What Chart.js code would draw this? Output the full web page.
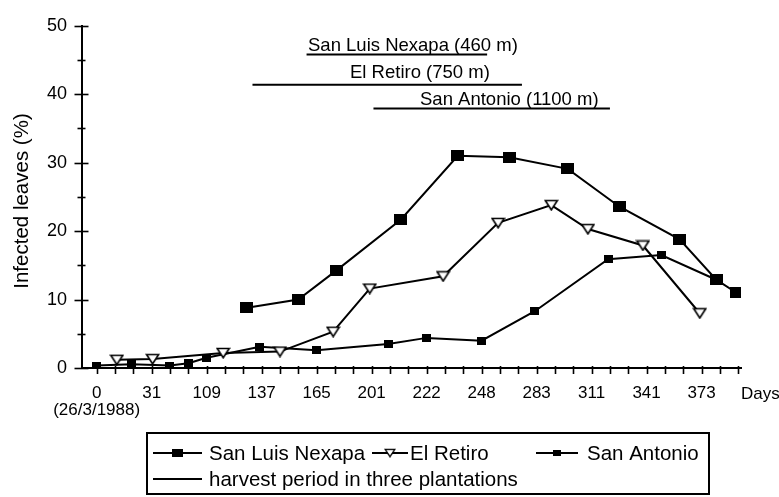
<!DOCTYPE html>
<html>
<head>
<meta charset="utf-8">
<script src="https://cdn.jsdelivr.net/npm/chart.js@4.4.1/dist/chart.umd.min.js"></script>
<style>
html,body{margin:0;padding:0;background:#fff;}
#wrap{width:779px;height:497px;position:relative;}
</style>
</head>
<body>
<div id="wrap"><canvas id="c" width="779" height="497"></canvas></div>
<script>
// ---- data (x = position in sampling-date ticks; one tick per sampling date) ----
const dayLabels = ['0','31','109','137','165','201','222','248','283','311','341','373'];
const firstDateLabel = '(26/3/1988)';
const axisEndLabel = 'Days';
const yTitle = 'Infected leaves (%)';
const seriesNames = ['San Luis Nexapa', 'El Retiro', 'San Antonio'];

const sanLuisX = [8.2, 11.0, 13.1, 16.6, 19.7, 22.5, 25.7, 28.5, 31.8, 33.8, 34.9];
const sanLuisY = [8.8, 10.0, 14.3, 21.7, 31.0, 30.8, 29.1, 23.6, 18.8, 12.9, 11.0];

const elRetiroX = [1.1, 3.05, 6.9, 10.0, 12.9, 14.9, 18.9, 21.9, 24.8, 26.8, 29.8, 32.9];
const elRetiroY = [1.2, 1.3, 2.2, 2.4, 5.3, 11.6, 13.4, 21.2, 23.8, 20.3, 17.9, 8.0];

const sanAntonioX = [0, 1.9, 4.0, 5.0, 6.0, 8.9, 12.0, 15.9, 18.0, 21.0, 23.9, 27.9, 30.8, 33.8];
const sanAntonioY = [0.35, 0.55, 0.35, 0.7, 1.5, 3.1, 2.6, 3.5, 4.4, 4.0, 8.3, 15.9, 16.5, 12.9];

const harvestLegend = 'harvest period in three plantations';
const harvestNames = ['San Luis Nexapa (460 m)', 'El Retiro (750 m)', 'San Antonio (1100 m)'];
const harvestStart = [11.45, 8.5, 15.1];
const harvestEnd = [21.3, 23.2, 28.0];
const harvestLevel = [45.8, 41.4, 37.9];

// ---- styling ----
const FONT = '"Liberation Sans", Arial, Helvetica, sans-serif';
function mk(w, h, draw) { const c = document.createElement('canvas'); c.width = w; c.height = h; draw(c.getContext('2d')); return c; }
const bigSquare = mk(13, 11, g => { g.fillStyle = '#000'; g.fillRect(0, 0, 13, 11); });
const smallSquare = mk(9, 8, g => { g.fillStyle = '#000'; g.fillRect(0, 0, 9, 8); });
const triDown = mk(15, 12, g => {
  g.fillStyle = '#fff'; g.strokeStyle = '#000'; g.lineWidth = 1.6;
  g.beginPath(); g.moveTo(1.5, 1.5); g.lineTo(13.5, 1.5); g.lineTo(7.5, 10.8); g.closePath(); g.fill(); g.stroke();
});

const pts = (xs, ys) => xs.map((x, i) => ({ x, y: ys[i] }));

const datasets = [
  { label: seriesNames[0], data: pts(sanLuisX, sanLuisY), pointStyle: bigSquare },
  { label: seriesNames[1], data: pts(elRetiroX, elRetiroY), pointStyle: triDown },
  { label: seriesNames[2], data: pts(sanAntonioX, sanAntonioY), pointStyle: smallSquare }
].map(d => Object.assign(d, { borderColor: '#000', backgroundColor: '#000', borderWidth: 2, pointRadius: 6, tension: 0 }));

harvestNames.forEach((n, i) => datasets.push({
  label: n,
  data: [{ x: harvestStart[i], y: harvestLevel[i] }, { x: harvestEnd[i], y: harvestLevel[i] }],
  borderColor: '#000', borderWidth: 2, pointRadius: 0
}));

const harvestLabelLayout = [ { x: 11.53, dy: 3.5 }, { x: 13.82, dy: 7 }, { x: 17.64, dy: 4 } ];

const decor = {
  id: 'decor',
  afterDraw(chart) {
    const { ctx, scales: { x, y } } = chart;
    const y0 = y.getPixelForValue(0);
    const ax = chart.chartArea.left;
    ctx.save();
    ctx.strokeStyle = '#000';
    ctx.lineWidth = 1.6;
    // x tick marks
    x.ticks.forEach(t => {
      const px = Math.round(x.getPixelForValue(t.value)) + 0.5;
      ctx.beginPath(); ctx.moveTo(px, y0 - 2); ctx.lineTo(px, y0 + 6); ctx.stroke();
    });
    // y tick marks (crossing)
    y.ticks.forEach(t => {
      const py = Math.round(y.getPixelForValue(t.value)) + 0.5;
      const h = t.value % 10 === 0 ? 7.5 : 4.5;
      ctx.beginPath(); ctx.moveTo(ax - h, py); ctx.lineTo(ax + h - 1, py); ctx.stroke();
    });
    ctx.fillStyle = '#000';
    // harvest labels
    ctx.font = '18.5px ' + FONT;
    ctx.textAlign = 'left'; ctx.textBaseline = 'alphabetic';
    harvestNames.forEach((n, i) => {
      const L = harvestLabelLayout[i];
      ctx.fillText(n, x.getPixelForValue(L.x), y.getPixelForValue(harvestLevel[i]) - L.dy);
    });
    // axis end label
    ctx.font = '17px ' + FONT;
    ctx.textBaseline = 'middle';
    ctx.fillText(axisEndLabel, 741, 394);
    // y title
    ctx.save();
    ctx.translate(22, 201); ctx.rotate(-Math.PI / 2);
    ctx.font = '20.5px ' + FONT; ctx.textAlign = 'center'; ctx.textBaseline = 'middle';
    ctx.fillText(yTitle, 0, 0);
    ctx.restore();
    // legend
    const box = { l: 147, t: 433, r: 709, b: 494 };
    ctx.lineWidth = 2;
    ctx.strokeRect(box.l, box.t, box.r - box.l, box.b - box.t);
    const r1 = 453, r2 = 479;
    const items = [
      { x0: 153, x1: 202, tx: 209, y: r1, img: bigSquare, text: seriesNames[0] },
      { x0: 372, x1: 408, tx: 410, y: r1, img: triDown, text: seriesNames[1] },
      { x0: 536, x1: 578, tx: 587, y: r1, img: smallSquare, text: seriesNames[2] },
      { x0: 153, x1: 202, tx: 209, y: r2, img: null, text: harvestLegend }
    ];
    ctx.font = '20.5px ' + FONT; ctx.textAlign = 'left'; ctx.textBaseline = 'middle';
    items.forEach(it => {
      ctx.beginPath(); ctx.moveTo(it.x0, it.y); ctx.lineTo(it.x1, it.y); ctx.stroke();
      if (it.img) {
        const s = it.img === smallSquare ? 0.85 : 0.8;
        const w = it.img.width * s, h = it.img.height * s;
        ctx.drawImage(it.img, (it.x0 + it.x1) / 2 - w / 2, it.y - h / 2, w, h);
      }
      ctx.fillText(it.text, it.tx, it.y + 1);
    });
    ctx.restore();
  }
};

new Chart(document.getElementById('c'), {
  type: 'line',
  data: { datasets },
  options: {
    responsive: false,
    animation: false,
    events: [],
    layout: { padding: { left: 0, top: 12, right: 38, bottom: 0 } },
    plugins: { legend: { display: false }, tooltip: { enabled: false } },
    scales: {
      x: {
        type: 'linear', min: -0.8, max: 35.15,
        afterBuildTicks: s => { s.ticks = Array.from({ length: 36 }, (_, i) => ({ value: i })); },
        afterFit: s => { s.height = 129; },
        grid: { display: false, drawTicks: false },
        border: { display: true, color: '#000', width: 2 },
        ticks: {
          autoSkip: false, maxRotation: 0, minRotation: 0, padding: 17,
          color: '#000', font: { family: FONT, size: 17, lineHeight: 1.0 },
          callback: v => {
            if (v % 3 !== 0 || v / 3 >= dayLabels.length) return '';
            const lab = dayLabels[v / 3];
            return v === 0 ? [lab, firstDateLabel] : lab;
          }
        }
      },
      y: {
        min: 0, max: 50,
        afterBuildTicks: s => { s.ticks = Array.from({ length: 11 }, (_, i) => ({ value: i * 5 })); },
        afterFit: s => { s.width = 82; },
        grid: { display: false, drawTicks: false },
        border: { display: true, color: '#000', width: 2 },
        ticks: {
          padding: 15, color: '#000', font: { family: FONT, size: 18 },
          callback: v => (v % 10 === 0 ? String(v) : '')
        }
      }
    }
  },
  plugins: [decor]
});
</script>
</body>
</html>
